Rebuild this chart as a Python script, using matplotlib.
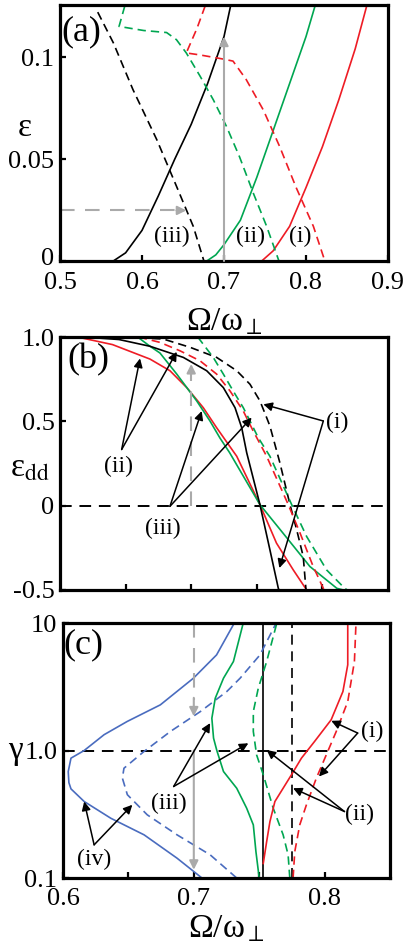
import matplotlib
matplotlib.use("Agg")
import matplotlib.pyplot as plt
from matplotlib.transforms import ScaledTranslation

plt.rcParams['font.family'] = ['Liberation Serif', 'DejaVu Serif']
plt.rcParams['mathtext.fontset'] = 'stix'
plt.rcParams['axes.unicode_minus'] = False

RED = '#ee1c25'
GREEN = '#00a651'
BLUE = '#4a6cbf'
GRAY = '#aaaaaa'

# ---------------- panel (a): eps vs Omega ----------------
a_xticks = [0.5, 0.6, 0.7, 0.8, 0.9]
a_yticks = [0, 0.05, 0.1]
a_yticklabels = ['0', '0.05', '0.1']

a_i_sol_x = [0.746, 0.76, 0.78, 0.80, 0.82, 0.84, 0.86, 0.874]
a_i_sol_y = [0.0, 0.005, 0.017, 0.036, 0.056, 0.079, 0.104, 0.125]
a_ii_sol_x = [0.679, 0.69, 0.70, 0.72, 0.74, 0.76, 0.78, 0.80, 0.811]
a_ii_sol_y = [0.0, 0.003, 0.008, 0.020, 0.041, 0.064, 0.087, 0.110, 0.125]
a_iii_sol_x = [0.565, 0.58, 0.60, 0.62, 0.64, 0.66, 0.68, 0.70, 0.708]
a_iii_sol_y = [0.0, 0.004, 0.015, 0.032, 0.050, 0.067, 0.087, 0.110, 0.125]

a_i_dash_x = [0.677, 0.667, 0.654, 0.671, 0.699, 0.711, 0.727, 0.748, 0.768, 0.788, 0.809, 0.823]
a_i_dash_y = [0.125, 0.114, 0.102, 0.101, 0.099, 0.098, 0.089, 0.074, 0.056, 0.036, 0.017, 0.0]
a_ii_dash_x = [0.579, 0.572, 0.602, 0.630, 0.642, 0.654, 0.671, 0.687, 0.703, 0.719, 0.736, 0.752, 0.767]
a_ii_dash_y = [0.125, 0.115, 0.113, 0.112, 0.1085, 0.102, 0.0905, 0.079, 0.066, 0.051, 0.033, 0.017, 0.0]
a_iii_dash_x = [0.546, 0.565, 0.589, 0.618, 0.642, 0.6625, 0.6755]
a_iii_dash_y = [0.122, 0.107, 0.084, 0.0595, 0.0367, 0.017, 0.0]

a_gray_v = (0.7, 0.0, 0.110)      # x, y start, y end
a_gray_h = (0.5, 0.654, 0.0248)   # x start, x end, y

# ---------------- panel (b): eps_dd vs Omega ----------------
b_yticks = [-0.5, 0, 0.5, 1.0]
b_yticklabels = ['-0.5', '0', '0.5', '1.0']

b_red_sol_x = [0.618, 0.64, 0.6686, 0.6838, 0.6966, 0.7092, 0.7194, 0.7347, 0.7524, 0.765, 0.7778, 0.788]
b_red_sol_y = [0.992, 0.955, 0.869, 0.80, 0.70, 0.581, 0.462, 0.293, 0.006, -0.222, -0.381, -0.5]
b_green_sol_x = [0.660, 0.6686, 0.6762, 0.689, 0.7042, 0.7143, 0.722, 0.7293, 0.7524, 0.770, 0.7905, 0.811, 0.816]
b_green_sol_y = [0.995, 0.945, 0.905, 0.78, 0.621, 0.502, 0.40, 0.314, 0.006, -0.163, -0.361, -0.49, -0.5]
b_black_sol_x = [0.618, 0.645, 0.6686, 0.694, 0.7118, 0.7245, 0.7334, 0.7385, 0.7423, 0.7524, 0.760, 0.7664, 0.767]
b_black_sol_y = [1.0, 0.985, 0.945, 0.879, 0.80, 0.70, 0.581, 0.462, 0.314, 0.006, -0.262, -0.49, -0.5]

b_black_dash_x = [0.650, 0.6787, 0.6991, 0.7194, 0.7347, 0.7448, 0.7524, 0.7575, 0.760, 0.7676, 0.7753, 0.7804, 0.7854, 0.7875]
b_black_dash_y = [1.0, 0.988, 0.939, 0.879, 0.80, 0.72, 0.621, 0.522, 0.472, 0.254, 0.006, -0.143, -0.302, -0.5]
b_red_dash_x = [0.660, 0.6762, 0.6915, 0.7067, 0.7194, 0.7296, 0.7397, 0.7473, 0.7575, 0.774, 0.783, 0.793, 0.8007, 0.802]
b_red_dash_y = [1.0, 0.968, 0.918, 0.859, 0.78, 0.68, 0.561, 0.442, 0.293, 0.006, -0.163, -0.361, -0.49, -0.5]
b_green_dash_x = [0.705, 0.7168, 0.7245, 0.732, 0.7397, 0.7448, 0.7511, 0.760, 0.7766, 0.788, 0.8032, 0.817, 0.819]
b_green_dash_y = [1.0, 0.879, 0.78, 0.68, 0.581, 0.502, 0.403, 0.293, 0.006, -0.183, -0.381, -0.49, -0.5]

b_gray_v = (0.7, 0.0, 0.84)

# ---------------- panel (c): gamma vs Omega ----------------
c_xticks = [0.6, 0.7, 0.8]
c_yticks = [0.1, 1.0, 10]
c_yticklabels = ['0.1', '1.0', '10']

c_blue_sol_x = [0.7062, 0.6872, 0.662, 0.6366, 0.6162, 0.6061, 0.6045, 0.604, 0.6061, 0.6162, 0.6314, 0.6491, 0.6744, 0.6997, 0.7174, 0.731]
c_blue_sol_y = [0.1, 0.143, 0.218, 0.294, 0.398, 0.50, 0.56, 0.684, 0.871, 1.0, 1.33, 1.69, 2.28, 3.69, 5.62, 10.0]
c_blue_dash_x = [0.7328, 0.7125, 0.6872, 0.6644, 0.6492, 0.6454, 0.6466, 0.6618, 0.6821, 0.705, 0.7252, 0.7354, 0.7506, 0.763]
c_blue_dash_y = [0.1, 0.152, 0.218, 0.313, 0.450, 0.607, 0.726, 0.98, 1.41, 2.02, 2.90, 3.69, 5.62, 10.0]
c_green_sol_x = [0.7500, 0.7475, 0.7455, 0.7404, 0.7328, 0.7227, 0.7176, 0.7151, 0.7138, 0.7164, 0.7227, 0.7303, 0.7378]
c_green_sol_y = [0.1, 0.161, 0.261, 0.353, 0.506, 0.684, 1.0, 1.25, 1.79, 2.57, 3.69, 4.99, 10.0]
c_green_dash_x = [0.7734, 0.7721, 0.7683, 0.7607, 0.7531, 0.748, 0.7455, 0.7455, 0.7493, 0.7557, 0.7635]
c_green_dash_y = [0.1, 0.152, 0.218, 0.353, 0.646, 0.925, 1.41, 2.02, 3.08, 4.99, 10.0]
c_red_sol_x = [0.7531, 0.7557, 0.7582, 0.762, 0.7683, 0.7747, 0.7823, 0.7924, 0.805, 0.814, 0.8177, 0.8177]
c_red_sol_y = [0.13, 0.193, 0.277, 0.398, 0.506, 0.646, 0.871, 1.18, 1.74, 2.90, 4.70, 10.0]
c_red_dash_x = [0.7759, 0.7772, 0.781, 0.7861, 0.7937, 0.8013, 0.8089, 0.8177, 0.8228, 0.824]
c_red_dash_y = [0.1, 0.161, 0.261, 0.375, 0.607, 0.925, 1.41, 2.42, 4.99, 10.0]

c_black_sol_x = 0.753
c_black_dash_x = 0.775
c_gray_dash = (0.7, 10.0, 1.85)
c_gray_sol = (0.7, 1.0, 0.116)


# ---------------- helpers ----------------
def style_axes(ax):
    for s in ax.spines.values():
        s.set_linewidth(2.3)
    ax.tick_params(direction='in', length=4, width=1.6, labelsize=19, pad=4)
    ax.tick_params(which='minor', direction='in', length=4, width=1.6)


def arrow(ax, tail, head, color='k', lw=1.1, ls='-'):
    ax.annotate('', xy=head, xytext=tail,
                arrowprops=dict(arrowstyle='-|>', color=color, lw=lw, ls=ls,
                                mutation_scale=13, shrinkA=0, shrinkB=0))


def pair_label(ax, text, pos, tail, heads):
    ax.text(pos[0], pos[1], text, fontsize=17, ha='center', va='center')
    for h in heads:
        arrow(ax, tail, h)


dash = (0, (5, 3))
long_dash = (0, (7, 5))
lw = 1.2

fig = plt.figure(figsize=(4.09, 9.47), dpi=100)

# ---- (a)
ax = fig.add_axes([60 / 409, 1 - 261 / 947, 328 / 409, 256 / 947])
ax.plot(a_i_sol_x, a_i_sol_y, color=RED, lw=lw)
ax.plot(a_ii_sol_x, a_ii_sol_y, color=GREEN, lw=lw)
ax.plot(a_iii_sol_x, a_iii_sol_y, color='k', lw=lw)
ax.plot(a_i_dash_x, a_i_dash_y, color=RED, lw=lw, ls=dash)
ax.plot(a_ii_dash_x, a_ii_dash_y, color=GREEN, lw=lw, ls=dash)
ax.plot(a_iii_dash_x, a_iii_dash_y, color='k', lw=lw, ls=dash)
arrow(ax, (a_gray_v[0], a_gray_v[1]), (a_gray_v[0], a_gray_v[2]), color=GRAY, lw=1.5)
ax.plot([a_gray_h[0], a_gray_h[1] - 0.01], [a_gray_h[2], a_gray_h[2]], color=GRAY, lw=1.5, ls=long_dash)
arrow(ax, (a_gray_h[1] - 0.012, a_gray_h[2]), (a_gray_h[1], a_gray_h[2]), color=GRAY, lw=1.5)
ax.text(0.636, 0.012, '(iii)', fontsize=17, ha='center', va='center')
ax.text(0.732, 0.012, '(ii)', fontsize=17, ha='center', va='center')
ax.text(0.7935, 0.012, '(i)', fontsize=17, ha='center', va='center')
ax.text(0.066, 0.896, '(a)', fontsize=26, ha='center', va='center', transform=ax.transAxes)
ax.set_xlim(0.5, 0.9)
ax.set_ylim(0, 0.1255)
ax.set_xticks(a_xticks)
ax.set_xticklabels([str(t) for t in a_xticks])
ax.set_yticks(a_yticks)
ax.set_yticklabels(a_yticklabels)
style_axes(ax)
ax.tick_params(axis='x', pad=8)
# the "0" label sits right on the corner; lift it a little
lift = ScaledTranslation(0, 3 / 72, fig.dpi_scale_trans)
ax.get_yticklabels()[0].set_transform(ax.get_yticklabels()[0].get_transform() + lift)
ax.set_xlabel('Ω/ω$_{\\perp}$', fontsize=24, labelpad=9)
ax.text(-0.107, 0.52, 'ε', fontsize=24, ha='center', va='center', transform=ax.transAxes)

# ---- (b)
ax = fig.add_axes([60 / 409, 1 - 590 / 947, 328 / 409, 253 / 947])
ax.axhline(0, color='k', lw=1.4, ls=(0, (6, 4)))
ax.plot(b_red_sol_x, b_red_sol_y, color=RED, lw=lw)
ax.plot(b_green_sol_x, b_green_sol_y, color=GREEN, lw=lw)
ax.plot(b_black_sol_x, b_black_sol_y, color='k', lw=lw)
ax.plot(b_black_dash_x, b_black_dash_y, color='k', lw=lw, ls=dash)
ax.plot(b_red_dash_x, b_red_dash_y, color=RED, lw=lw, ls=dash)
ax.plot(b_green_dash_x, b_green_dash_y, color=GREEN, lw=lw, ls=dash)
ax.plot([b_gray_v[0], b_gray_v[0]], [b_gray_v[1], b_gray_v[2] - 0.05], color=GRAY, lw=1.5, ls=long_dash)
arrow(ax, (b_gray_v[0], b_gray_v[2] - 0.06), (b_gray_v[0], b_gray_v[2]), color=GRAY, lw=1.5)
pair_label(ax, '(i)', (0.811, 0.492), (0.8007, 0.502), [(0.755, 0.601), (0.7672, -0.37)])
pair_label(ax, '(ii)', (0.6444, 0.234), (0.647, 0.333), [(0.661, 0.873), (0.689, 0.912)])
pair_label(ax, '(iii)', (0.6787, -0.133), (0.6838, -0.004), [(0.708, 0.561), (0.7461, 0.522)])
ax.text(0.086, 0.909, '(b)', fontsize=26, ha='center', va='center', transform=ax.transAxes)
ax.set_xlim(0.6, 0.85)
ax.set_ylim(-0.5, 1.0)
ax.set_xticks([0.65, 0.7, 0.75, 0.8])
ax.set_xticklabels([])
ax.set_yticks(b_yticks)
ax.set_yticklabels(b_yticklabels)
style_axes(ax)
ax.text(-0.091, 0.482, 'ε$_{\\mathrm{dd}}$', fontsize=24, ha='center', va='center', transform=ax.transAxes)

# ---- (c)
ax = fig.add_axes([63 / 409, 1 - 878 / 947, 327 / 409, 255 / 947])
ax.set_yscale('log')
ax.axhline(1.0, color='k', lw=1.4, ls=(0, (6, 4)))
ax.axvline(c_black_sol_x, color='k', lw=lw)
ax.axvline(c_black_dash_x, color='k', lw=lw, ls=(0, (6, 4)))
ax.plot(c_blue_sol_x, c_blue_sol_y, color=BLUE, lw=lw)
ax.plot(c_blue_dash_x, c_blue_dash_y, color=BLUE, lw=lw, ls=dash)
ax.plot(c_green_sol_x, c_green_sol_y, color=GREEN, lw=lw)
ax.plot(c_green_dash_x, c_green_dash_y, color=GREEN, lw=lw, ls=dash)
ax.plot(c_red_sol_x, c_red_sol_y, color=RED, lw=lw)
ax.plot(c_red_dash_x, c_red_dash_y, color=RED, lw=lw, ls=dash)
ax.plot([c_gray_dash[0]] * 2, [c_gray_dash[1], c_gray_dash[2] * 1.35], color=GRAY, lw=1.5, ls=long_dash)
arrow(ax, (c_gray_dash[0], c_gray_dash[2] * 1.4), (c_gray_dash[0], c_gray_dash[2]), color=GRAY, lw=1.5)
arrow(ax, (c_gray_sol[0], c_gray_sol[1]), (c_gray_sol[0], c_gray_sol[2]), color=GRAY, lw=1.5)
pair_label(ax, '(i)', (0.8367, 1.41), (0.8253, 1.37), [(0.8051, 1.71), (0.7957, 0.625)])
pair_label(ax, '(ii)', (0.8266, 0.313), (0.8152, 0.332), [(0.7557, 1.01), (0.7759, 0.506)])
pair_label(ax, '(iii)', (0.6808, 0.386), (0.6846, 0.522), [(0.7125, 1.64), (0.7417, 1.14)])
pair_label(ax, '(iv)', (0.6238, 0.139), (0.6238, 0.182), [(0.6162, 0.398), (0.653, 0.375)])
ax.text(0.061, 0.914, '(c)', fontsize=26, ha='center', va='center', transform=ax.transAxes)
ax.set_xlim(0.6, 0.85)
ax.set_ylim(0.1, 10)
ax.set_xticks(c_xticks)
ax.set_xticklabels([str(t) for t in c_xticks])
ax.set_xticks([0.65, 0.75], minor=True)
ax.set_yticks(c_yticks)
ax.set_yticklabels(c_yticklabels)
ax.yaxis.set_minor_locator(matplotlib.ticker.NullLocator())
style_axes(ax)
ax.tick_params(axis='x', pad=7)
ax.set_xlabel('Ω/ω$_{\\perp}$', fontsize=24, labelpad=3)
ax.text(-0.147, 0.5, 'γ', fontsize=24, ha='center', va='center', transform=ax.transAxes)

fig.savefig('out.png', dpi=100)
